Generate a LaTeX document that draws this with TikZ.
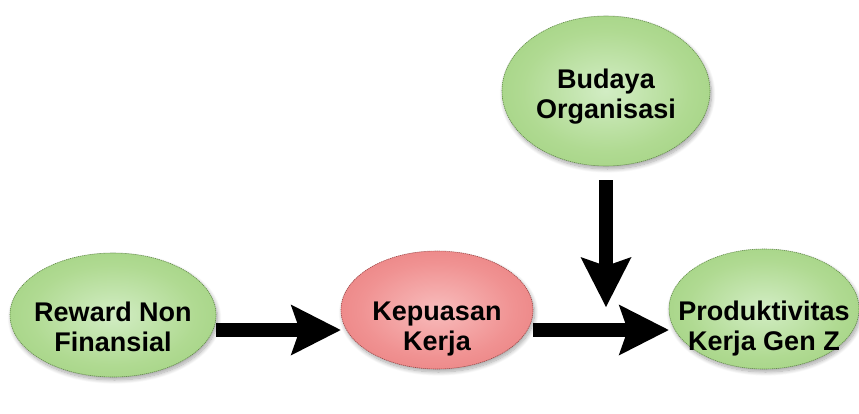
\documentclass[tikz,border=0pt]{standalone}
\usepackage{fontspec}
\setmainfont{Liberation Sans}
\usetikzlibrary{arrows.meta,shapes.geometric,shadows.blur}
\definecolor{gin}{RGB}{210,237,196}
\definecolor{gmid}{RGB}{176,218,146}
\definecolor{gout}{RGB}{140,199,104}
\definecolor{rin}{RGB}{248,188,188}
\definecolor{rmid}{RGB}{240,146,146}
\definecolor{rout}{RGB}{226,102,102}
\pgfdeclareradialshading{gshade}{\pgfpoint{0bp}{0bp}}{color(0bp)=(gin); color(20bp)=(gmid); color(50bp)=(gout)}
\pgfdeclareradialshading{rshade}{\pgfpoint{0bp}{0bp}}{color(0bp)=(rin); color(20bp)=(rmid); color(50bp)=(rout)}
\tikzset{
  bubble/.style={ellipse, inner sep=0pt, line width=0.6pt, dash pattern=on 1.2pt off 0.8pt,
    blur shadow={shadow xshift=1.5pt, shadow yshift=-3pt, shadow blur radius=4pt, shadow blur steps=10, shadow opacity=35}},
  greenbub/.style={bubble, shading=gshade, draw=gout!70!black},
  redbub/.style={bubble, shading=rshade, draw=rout!70!black},
  lbl/.style={align=center, font=\bfseries\fontsize{27}{30}\selectfont, text=black, inner sep=0pt},
  arr/.style={line width=14pt, -{Stealth[length=50pt, width=51pt, inset=9pt, line width=0pt]}},
}
\begin{document}
\begin{tikzpicture}[x=1pt, y=-1pt]
\useasboundingbox (0,0) rectangle (859,413);
% bubbles
\node[greenbub, minimum width=206pt, minimum height=124pt] (rew) at (113,315) {};
\node[redbub, minimum width=192pt, minimum height=118pt] (kep) at (437,310) {};
\node[greenbub, minimum width=190pt, minimum height=120pt] (prod) at (764,309) {};
\node[greenbub, minimum width=208pt, minimum height=150pt] (bud) at (606,91) {};
% labels
\node[lbl] (rewT) at (113,327) {Reward Non\\Finansial};
\node[lbl] (kepT) at (437,329) {Kepuasan\\Kerja};
\node[lbl] (prodT) at (764,329) {Produktivitas\\Kerja Gen Z};
\node[lbl] (budT) at (606,97) {Budaya\\Organisasi};
% connectors
\coordinate (lvl) at (0,330);
\coordinate (mod) at (606,307);
\draw[arr] (rew.east |- lvl) -- (kep.west |- lvl);
\draw[arr] (kep.east |- lvl) -- (prod.west |- lvl);
\draw[arr] ([yshift=-14pt]bud.south) -- (mod);
\end{tikzpicture}
\end{document}
